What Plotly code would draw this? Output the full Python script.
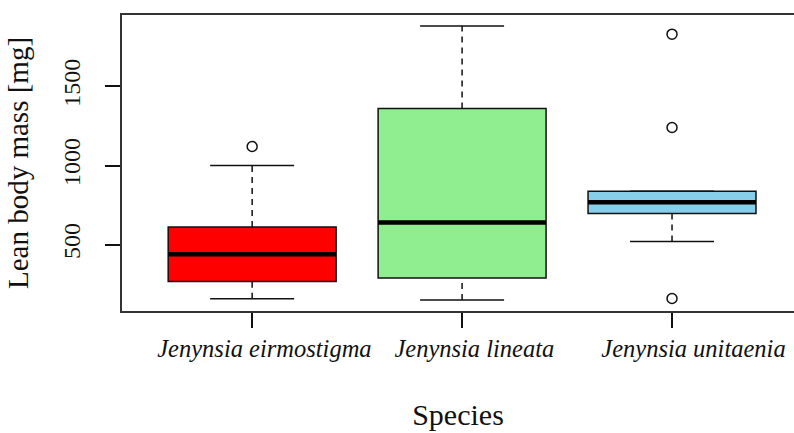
import plotly.graph_objects as go

species = ["Jenynsia eirmostigma", "Jenynsia lineata", "Jenynsia unitaenia"]
lower_whisker = [158, 150, 520]
q1 = [267, 290, 697]
median = [440, 640, 768]
q3 = [611, 1360, 838]
upper_whisker = [1000, 1882, 838]
outliers = [[1120], [], [1830, 1240, 160]]
box_colors = ["#FF0000", "#90EE90", "#87CEEB"]
y_ticks = [500, 1000, 1500]

FONT = "Liberation Serif, Times New Roman, serif"
BOX_W = 0.8
STAPLE_W = 0.4
LINE = "#111111"
NBSP = "\u00a0"
label_pad = [4, 4, 7]  # the reference labels sit a little right of their ticks

fig = go.Figure()

for i, name in enumerate(species):
    pos = i + 1
    # whiskers (dashed)
    for a, b in ((q3[i], upper_whisker[i]), (lower_whisker[i], q1[i])):
        fig.add_trace(go.Scatter(x=[pos, pos], y=[a, b], mode="lines",
                                 line=dict(color=LINE, width=1.5, dash="6px,5px"),
                                 hoverinfo="skip", showlegend=False))
    # staples
    for v in (lower_whisker[i], upper_whisker[i]):
        fig.add_trace(go.Scatter(x=[pos - STAPLE_W / 2, pos + STAPLE_W / 2], y=[v, v],
                                 mode="lines", line=dict(color=LINE, width=1.5),
                                 hoverinfo="skip", showlegend=False))
    # box body
    fig.add_trace(go.Box(x=[pos], q1=[q1[i]], median=[median[i]], q3=[q3[i]],
                         lowerfence=[q1[i]], upperfence=[q3[i]], width=BOX_W,
                         fillcolor=box_colors[i], line=dict(color=LINE, width=1.5),
                         boxpoints=False, hoverinfo="skip", showlegend=False, name=name))
    # thick median
    fig.add_trace(go.Scatter(x=[pos - BOX_W / 2, pos + BOX_W / 2], y=[median[i], median[i]],
                             mode="lines", line=dict(color="black", width=4.5),
                             hoverinfo="skip", showlegend=False))
    # outliers
    if outliers[i]:
        fig.add_trace(go.Scatter(x=[pos] * len(outliers[i]), y=outliers[i], mode="markers",
                                 marker=dict(symbol="circle-open", size=10,
                                             line=dict(color=LINE, width=1.5), color=LINE),
                                 hoverinfo="skip", showlegend=False))

fig.update_layout(
    width=794, height=433,
    margin=dict(l=122, r=0, t=15, b=122, pad=0),
    paper_bgcolor="white", plot_bgcolor="white",
    font=dict(family=FONT, color="black"),
    showlegend=False,
    xaxis=dict(
        range=[0.38, 3.581], showgrid=False, zeroline=False, automargin=False,
        showline=True, mirror=True, linecolor="#333333", linewidth=1.5,
        ticks="outside", ticklen=15, tickwidth=1.5, tickcolor=LINE,
        tickvals=[1, 2, 3], tickangle=0,
        ticktext=[NBSP * p + "<i>%s</i>" % s for s, p in zip(species, label_pad)],
        tickfont=dict(family=FONT, size=24.5, color="#111111"),
        ticklabelstandoff=0,
        title=dict(text="Species", font=dict(family=FONT, size=30, color="#111111"), standoff=43),
    ),
    yaxis=dict(
        range=[81, 1951], showgrid=False, zeroline=False, automargin=False,
        showline=True, mirror=False, linecolor="#333333", linewidth=1.5,
        ticks="outside", ticklen=15, tickwidth=1.5, tickcolor=LINE,
        tickvals=y_ticks, ticktext=[str(v) for v in y_ticks], tickangle=-90,
        tickfont=dict(family=FONT, size=24, color="#111111"),
        ticklabelstandoff=16,
        title=dict(text="Lean body mass [mg]", font=dict(family=FONT, size=29, color="#111111"), standoff=22),
    ),
)

fig.write_html("out.html")
